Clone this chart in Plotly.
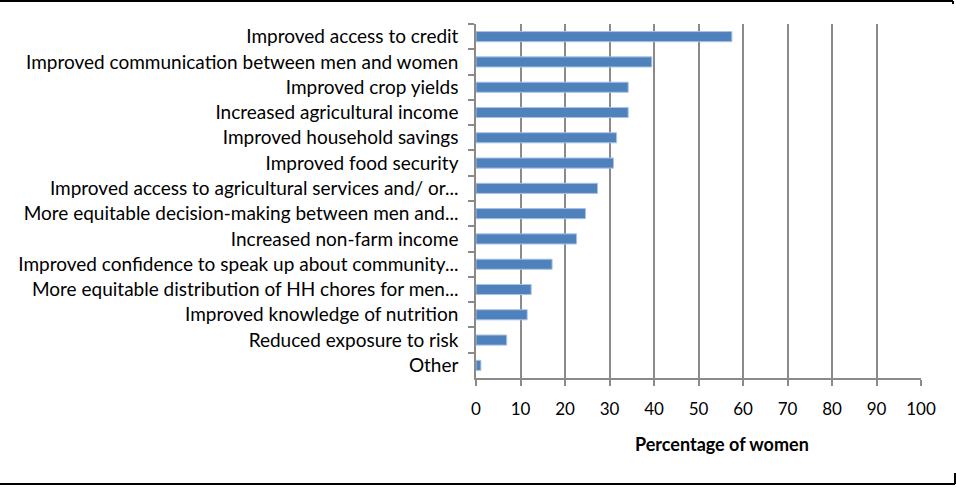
import plotly.graph_objects as go

categories = [
    "Improved access to credit",
    "Improved communication between men and women",
    "Improved crop yields",
    "Increased agricultural income",
    "Improved household savings",
    "Improved food security",
    "Improved access to agricultural services and/ or...",
    "More equitable decision-making between men and...",
    "Increased non-farm income",
    "Improved confidence to speak up about community...",
    "More equitable distribution of HH chores for men...",
    "Improved knowledge of nutrition",
    "Reduced exposure to risk",
    "Other",
]
values = [57.5, 39.5, 34.2, 34.2, 31.6, 30.9, 27.3, 24.6, 22.6, 17.1, 12.4, 11.5, 6.9, 1.1]
x_ticks = [0, 10, 20, 30, 40, 50, 60, 70, 80, 90, 100]
x_title = "Percentage of women"

W, H = 956, 487
ML, MR, MT, MB = 476, 35, 24, 109
PW, PH = W - ML - MR, H - MT - MB

def px_x(p):
    return (p - ML) / PW

def px_y(p):
    return 1 - (p - MT) / PH

FONT = "Lato"

fig = go.Figure(go.Bar(
    x=values, y=categories, orientation="h",
    marker=dict(color="#4f81bd", line=dict(color="#a9c3e3", width=1)),
))

fig.update_layout(
    width=W, height=H,
    margin=dict(l=ML, r=MR, t=MT, b=MB, autoexpand=False),
    paper_bgcolor="white", plot_bgcolor="white",
    bargap=0.6,
    showlegend=False,
    font=dict(family=FONT, size=16, color="#000000"),
)
fig.update_xaxes(
    range=[0, 100], tickvals=x_ticks, ticktext=[str(t) for t in x_ticks],
    showgrid=True, gridcolor="#8a8a8a", gridwidth=1.5,
    showline=True, linecolor="#8a8a8a", linewidth=1.5,
    ticks="outside", ticklen=6, tickcolor="#8a8a8a", tickwidth=1.5,
    zeroline=False, ticklabelstandoff=9,
    tickfont=dict(family=FONT, size=17, color="#000000"),
)
fig.update_yaxes(
    categoryorder="array", categoryarray=categories, autorange="reversed",
    showline=True, linecolor="#8a8a8a", linewidth=1.5,
    ticks="outside", ticklen=6, tickcolor="#8a8a8a", tickwidth=1.5,
    tickson="boundaries", showgrid=False, ticklabelstandoff=12,
    tickfont=dict(family=FONT, size=19, color="#000000"),
)

fig.add_annotation(
    text="<b>" + x_title + "</b>", xref="paper", yref="paper",
    x=px_x(722), y=px_y(444), xanchor="center", yanchor="middle",
    showarrow=False, font=dict(family=FONT, size=18, color="#000000"),
)

border = dict(color="#000000", width=2)
fig.add_shape(type="line", xref="paper", yref="paper",
              x0=px_x(0), x1=px_x(953), y0=px_y(1), y1=px_y(1), line=border)
fig.add_shape(type="line", xref="paper", yref="paper",
              x0=px_x(953), x1=px_x(953), y0=px_y(1), y1=px_y(4), line=border)
fig.add_shape(type="line", xref="paper", yref="paper",
              x0=px_x(0), x1=px_x(955), y0=px_y(484), y1=px_y(484), line=border)
fig.add_shape(type="line", xref="paper", yref="paper",
              x0=px_x(955), x1=px_x(955), y0=px_y(473), y1=px_y(484), line=border)

fig.write_html(
    "out.html",
    config={"displayModeBar": False},
    post_script="document.body.style.margin='0px';document.body.style.overflow='hidden';",
)
